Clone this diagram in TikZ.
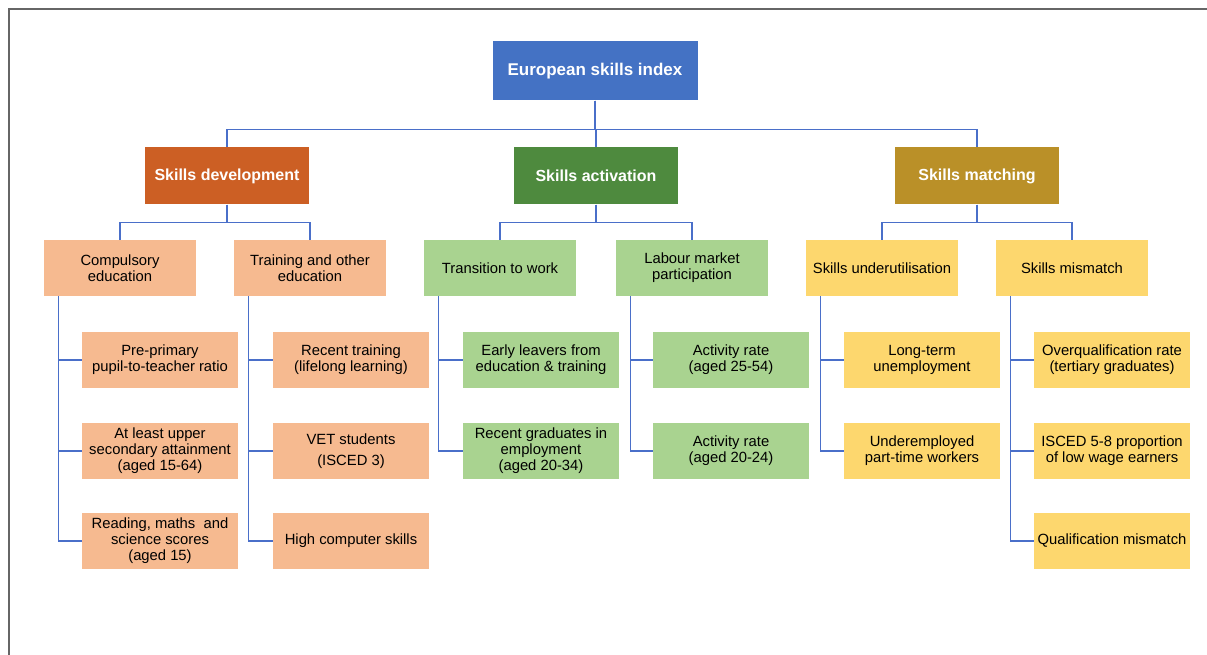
\documentclass[tikz,border=0pt]{standalone}
\usepackage{fontspec}
\setmainfont{Liberation Sans}
\usepackage{tikz}

\definecolor{esiblue}{HTML}{4472C4}
\definecolor{devdark}{HTML}{CC5F24}
\definecolor{actdark}{HTML}{4E8A3E}
\definecolor{matdark}{HTML}{BA9028}
\definecolor{devlight}{HTML}{F6BA90}
\definecolor{actlight}{HTML}{A9D390}
\definecolor{matlight}{HTML}{FDD76E}
\definecolor{linkblue}{HTML}{4A6FC9}

\begin{document}
\begin{tikzpicture}
[x=1pt,y=-1pt,
every node/.style={align=center,inner sep=0pt,font=\fontsize{14.8}{16}\selectfont},
topbox/.style={fill=esiblue,text=white,minimum width=205pt,minimum height=59pt,font=\fontsize{17}{19}\selectfont\bfseries},
pillar/.style={text=white,minimum width=164pt,minimum height=57pt,font=\fontsize{16}{18}\selectfont\bfseries},
area/.style={minimum width=152pt,minimum height=56pt},
indicator/.style={minimum width=156pt,minimum height=56pt},
link/.style={draw=linkblue,line width=1.3pt}]

\useasboundingbox (0,0) rectangle (1207,655);
% frame
\draw[gray!80!black,line width=1.4pt] (9,655) -- (9,9) -- (1207,9);

% index
\node[topbox] (esi) at (595,71) {European skills index};

% pillars
\node[pillar,fill=devdark] (dev) at (227,176) {Skills development};
\node[pillar,fill=actdark] (act) at (596,176) {Skills activation};
\node[pillar,fill=matdark] (mat) at (977,176) {Skills matching};

% sub-pillars
\node[area,fill=devlight] (comp) at (120,268) {Compulsory\\education};
\node[area,fill=devlight] (train) at (310,268) {Training and other\\education};
\node[area,fill=actlight] (trans) at (500,268) {Transition to work};
\node[area,fill=actlight] (lab) at (692,268) {Labour market\\participation};
\node[area,fill=matlight] (under) at (882,268) {Skills underutilisation};
\node[area,fill=matlight] (mis) at (1072,268) {Skills mismatch};

% indicators
\node[indicator,fill=devlight] (comp1) at (160,360) {Pre-primary\\pupil-to-teacher ratio};
\node[indicator,fill=devlight] (comp2) at (160,451) {At least upper\\secondary attainment\\(aged 15-64)};
\node[indicator,fill=devlight] (comp3) at (160,541) {Reading, maths \ and\\science scores\\(aged 15)};
\node[indicator,fill=devlight] (train1) at (351,360) {Recent training\\(lifelong learning)};
\node[indicator,fill=devlight] (train2) at (351,451) {VET students\\[5pt](ISCED 3)};
\node[indicator,fill=devlight] (train3) at (351,541) {High computer skills};
\node[indicator,fill=actlight] (trans1) at (541,360) {Early leavers from\\education \& training};
\node[indicator,fill=actlight] (trans2) at (541,451) {Recent graduates in\\employment\\(aged 20-34)};
\node[indicator,fill=actlight] (lab1) at (731,360) {Activity rate\\(aged 25-54)};
\node[indicator,fill=actlight] (lab2) at (731,451) {Activity rate\\(aged 20-24)};
\node[indicator,fill=matlight] (under1) at (922,360) {Long-term\\unemployment};
\node[indicator,fill=matlight] (under2) at (922,451) {Underemployed\\part-time workers};
\node[indicator,fill=matlight] (mis1) at (1112,360) {Overqualification rate\\(tertiary graduates)};
\node[indicator,fill=matlight] (mis2) at (1112,451) {ISCED 5-8 proportion\\of low wage earners};
\node[indicator,fill=matlight] (mis3) at (1112,541) {Qualification mismatch};

% index to pillars
\foreach \p in {dev,act,mat}
  \draw[link] (esi.south) -- ++(0,29) -| (\p.north);

% pillars to sub-pillars
\foreach \p/\a/\b in {dev/comp/train,act/trans/lab,mat/under/mis}{
  \draw[link] (\p.south) -- ++(0,18) -| (\a.north);
  \draw[link] (\p.south) -- ++(0,18) -| (\b.north);
}

% sub-pillars to indicators
\foreach \a/\n in {comp/3,train/3,trans/2,lab/2,under/2,mis/3}
  \foreach \i in {1,...,\n}
    \draw[link] ([xshift=15pt]\a.south west) |- (\a\i.west);
\end{tikzpicture}
\end{document}
